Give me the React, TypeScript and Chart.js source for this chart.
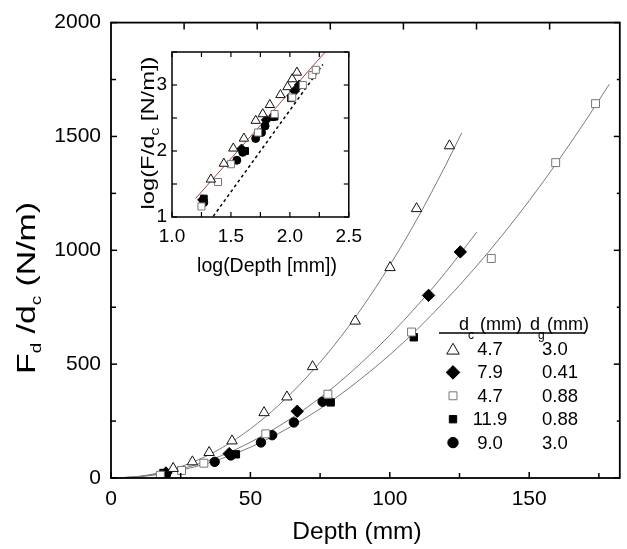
import React, { useEffect, useRef } from 'react';
import { Chart, registerables } from 'chart.js';

Chart.register(...registerables);

const FONT = "'Liberation Sans', Arial, Helvetica, sans-serif";

// ---------- main plot: measured points (Depth mm, Fd/dc N/m) ----------
const TRI_X = [22.3, 29.2, 35.2, 43.4, 54.9, 63.1, 72.3, 87.6, 100.1, 109.6, 121.4];
const TRI_Y = [42, 71, 112, 163, 287, 356, 489, 689, 924, 1183, 1459];
const DIA_X = [19.7, 42.4, 66.8, 113.9, 125.3];
const DIA_Y = [22, 107, 293, 802, 993];
const OSQ_X = [17.7, 25.3, 33.3, 55.5, 77.8, 107.8, 136.4, 159.5, 173.8];
const OSQ_Y = [12, 33, 65, 194, 368, 641, 964, 1385, 1644];
const FSQ_X = [18.8, 44.8, 78.8, 108.6];
const FSQ_Y = [22, 104, 332, 618];
const CIR_X = [19.7, 37.2, 43.0, 53.8, 57.8, 65.6, 75.9];
const CIR_Y = [14, 71, 99, 156, 188, 244, 335];

// ---------- main plot: fitted curves ----------
const CURVE_A_X = [0, 10, 20, 30, 40, 50, 60, 70, 80, 90, 100, 110, 120, 125.8];
const CURVE_A_Y = [0, 7, 31, 73, 134, 216, 318, 440, 582, 747, 934, 1142, 1373, 1516];
const CURVE_B_X = [0, 10, 20, 30, 40, 50, 60, 70, 80, 90, 100, 110, 120, 131.2];
const CURVE_B_Y = [0, 6.3, 25, 56.5, 100, 157, 226, 307, 401, 508, 627, 759, 903, 1080];
const CURVE_C_X = [0, 10, 20, 30, 40, 50, 60, 70, 80, 90, 100, 110, 120, 130, 140, 150, 160, 170, 178.7];
const CURVE_C_Y = [0, 5.4, 21.7, 48.7, 86.6, 135, 195, 265, 346, 439, 541, 655, 780, 915, 1061, 1218, 1386, 1565, 1729];

// ---------- inset: log-log points ----------
const IN_TRI_X = [1.33, 1.44, 1.52, 1.61, 1.71, 1.77, 1.83, 1.92, 1.98, 2.02, 2.06];
const IN_TRI_Y = [1.57, 1.81, 2.04, 2.19, 2.46, 2.56, 2.70, 2.85, 2.97, 3.09, 3.19];
const IN_DIA_X = [1.26, 1.59, 1.80, 2.04, 2.08];
const IN_DIA_Y = [1.26, 2.03, 2.47, 2.91, 3.00];
const IN_OSQ_X = [1.25, 1.39, 1.50, 1.73, 1.87, 2.02, 2.11, 2.19, 2.22];
const IN_OSQ_Y = [1.16, 1.53, 1.80, 2.28, 2.56, 2.81, 3.00, 3.15, 3.23];
const IN_FSQ_X = [1.27, 1.62, 1.87, 2.01];
const IN_FSQ_Y = [1.28, 2.00, 2.52, 2.80];
const IN_CIR_X = [1.27, 1.55, 1.60, 1.71, 1.76, 1.79, 1.86];
const IN_CIR_Y = [1.22, 1.86, 1.98, 2.19, 2.28, 2.38, 2.52];
const IN_RED_X = [1.20, 2.30];
const IN_RED_Y = [1.28, 3.50];
const IN_DOT_X = [1.35, 2.28];
const IN_DOT_Y = [1.01, 3.31];

// ---------- axes / legend text ----------
const X_MIN = 0, X_MAX = 182.5, X_LABEL_STEP = 50, X_MINOR = 25;
const Y_MIN = 0, Y_MAX = 2000, Y_LABEL_STEP = 500, Y_MINOR = 250;
const TOP_MAX = 6.96; // top axis has its own tick spacing
const IN_X_MIN = 1.0, IN_X_MAX = 2.5, IN_X_STEP = 0.5, IN_X_MINOR = 0.25;
const IN_Y_MIN = 1.0, IN_Y_MAX = 3.5, IN_Y_STEP = 1, IN_Y_MINOR = 0.5;
const LEGEND_DC = ['4.7', '7.9', '4.7', '11.9', '9.0'];
const LEGEND_DG = ['3.0', '0.41', '0.88', '0.88', '3.0'];

type Marker = { style: string; fill: string; stroke: string; r: number; ir: number; lr: number };
const MARKERS: Marker[] = [
  { style: 'triangle', fill: '#ffffff', stroke: '#111111', r: 6, ir: 5.4, lr: 7.2 },
  { style: 'rectRot', fill: '#000000', stroke: '#000000', r: 6.2, ir: 5, lr: 6.8 },
  { style: 'rect', fill: '#ffffff', stroke: '#777777', r: 5.6, ir: 5, lr: 5.6 },
  { style: 'rect', fill: '#000000', stroke: '#000000', r: 5.2, ir: 4.8, lr: 5.2 },
  { style: 'circle', fill: '#000000', stroke: '#000000', r: 4.7, ir: 4, lr: 5.2 },
];

const pts = (xs: number[], ys: number[]) => xs.map((x, i) => ({ x, y: ys[i] }));

function drawMarker(ctx: CanvasRenderingContext2D, m: Marker, x: number, y: number, r: number) {
  ctx.save();
  ctx.beginPath();
  if (m.style === 'triangle') {
    const s = Math.sin(Math.PI * 2 / 3) * r;
    ctx.moveTo(x, y - r);
    ctx.lineTo(x + s, y + r / 2);
    ctx.lineTo(x - s, y + r / 2);
    ctx.closePath();
  } else if (m.style === 'rectRot') {
    ctx.moveTo(x, y - r);
    ctx.lineTo(x + r, y);
    ctx.lineTo(x, y + r);
    ctx.lineTo(x - r, y);
    ctx.closePath();
  } else if (m.style === 'rect') {
    const s = r * Math.SQRT1_2;
    ctx.rect(x - s, y - s, 2 * s, 2 * s);
  } else {
    ctx.arc(x, y, r, 0, Math.PI * 2);
  }
  ctx.fillStyle = m.fill;
  ctx.fill();
  ctx.lineWidth = 1;
  ctx.strokeStyle = m.stroke;
  ctx.stroke();
  ctx.restore();
}

type Part = { t: string; sub?: boolean };
function drawRich(
  ctx: CanvasRenderingContext2D, parts: Part[], cx: number, cy: number,
  size: number, subSize: number, subDy: number, stretch: number, rotate: boolean
) {
  ctx.save();
  ctx.translate(cx, cy);
  if (rotate) ctx.rotate(-Math.PI / 2);
  ctx.scale(stretch, 1);
  let w = 0;
  for (const p of parts) {
    ctx.font = `${p.sub ? subSize : size}px ${FONT}`;
    w += ctx.measureText(p.t).width;
  }
  let x = -w / 2;
  ctx.fillStyle = '#000';
  ctx.textAlign = 'left';
  ctx.textBaseline = 'alphabetic';
  const base = size * 0.36;
  for (const p of parts) {
    ctx.font = `${p.sub ? subSize : size}px ${FONT}`;
    ctx.fillText(p.t, x, base + (p.sub ? subDy : 0));
    x += ctx.measureText(p.t).width;
  }
  ctx.restore();
}

function line(ctx: CanvasRenderingContext2D, x1: number, y1: number, x2: number, y2: number) {
  ctx.beginPath();
  ctx.moveTo(x1, y1);
  ctx.lineTo(x2, y2);
  ctx.stroke();
}

const mainDecor = {
  id: 'mainDecor',
  afterDatasetsDraw(chart: any) {
    const ctx: CanvasRenderingContext2D = chart.ctx;
    ctx.save();
    // legend panel
    ctx.fillStyle = '#ffffff';
    ctx.fillRect(434, 313, 170, 145);
    ctx.fillStyle = '#000';
    ctx.textAlign = 'left';
    ctx.textBaseline = 'alphabetic';
    ctx.font = `18px ${FONT}`;
    ctx.fillText('d', 459, 330);
    ctx.fillText('(mm)', 480, 330);
    ctx.fillText('d', 530, 330);
    ctx.fillText('(mm)', 547, 330);
    ctx.font = `12px ${FONT}`;
    ctx.fillText('c', 468, 339);
    ctx.fillText('g', 538, 339);
    ctx.strokeStyle = '#000';
    ctx.lineWidth = 1.5;
    line(ctx, 439, 333, 585, 333);
    ctx.font = `18.5px ${FONT}`;
    ctx.textBaseline = 'middle';
    for (let i = 0; i < LEGEND_DC.length; i++) {
      const yy = 349 + i * 23.4;
      drawMarker(ctx, MARKERS[i], 453, yy + (MARKERS[i].style === 'triangle' ? 1.5 : 0), MARKERS[i].lr);
      ctx.fillStyle = '#000';
      ctx.textAlign = 'center';
      ctx.fillText(LEGEND_DC[i], 490, yy + 1);
      ctx.textAlign = 'left';
      ctx.fillText(LEGEND_DG[i], 542, yy + 1);
    }
    ctx.restore();
  },
  afterDraw(chart: any) {
    const ctx: CanvasRenderingContext2D = chart.ctx;
    const { left, right, top, bottom } = chart.chartArea;
    const xs = chart.scales.x, ys = chart.scales.y, x2 = chart.scales.x2;
    ctx.save();
    ctx.strokeStyle = '#000';
    ctx.lineWidth = 1.5;
    for (let v = X_MIN; v <= X_MAX + 1e-6; v += X_MINOR) {
      const p = xs.getPixelForValue(v);
      const len = v % X_LABEL_STEP === 0 ? 6 : 5;
      line(ctx, p, bottom, p, bottom - len);
    }
    for (let v = Y_MIN; v <= Y_MAX + 1e-6; v += Y_MINOR) {
      const p = ys.getPixelForValue(v);
      const major = v % Y_LABEL_STEP === 0;
      line(ctx, left, p, left + (major ? 6 : 5), p);
      line(ctx, right, p, right - (major ? 6 : 3), p);
    }
    for (let v = 1; v < TOP_MAX; v += 1) {
      const p = x2.getPixelForValue(v);
      line(ctx, p, top, p, top + 7);
    }
    ctx.lineWidth = 1.8;
    ctx.strokeRect(left, top, right - left, bottom - top);
    // titles
    ctx.fillStyle = '#000';
    ctx.font = `24.5px ${FONT}`;
    ctx.textAlign = 'center';
    ctx.textBaseline = 'middle';
    ctx.fillText('Depth (mm)', 357, 532);
    ctx.restore();
    drawRich(ctx, [{ t: 'F' }, { t: 'd', sub: true }, { t: ' /d' }, { t: 'c', sub: true }, { t: ' (N/m)' }],
      26, 288, 26, 14.5, 6, 1.3, true);
  },
};

const insetDecor = {
  id: 'insetDecor',
  beforeDraw(chart: any) {
    const ctx: CanvasRenderingContext2D = chart.ctx;
    ctx.save();
    ctx.fillStyle = '#ffffff';
    ctx.fillRect(0, 0, chart.width, chart.height);
    ctx.restore();
  },
  afterDraw(chart: any) {
    const ctx: CanvasRenderingContext2D = chart.ctx;
    const { left, right, top, bottom } = chart.chartArea;
    const xs = chart.scales.x, ys = chart.scales.y;
    ctx.save();
    ctx.strokeStyle = '#000';
    ctx.lineWidth = 1.2;
    for (let v = IN_X_MIN; v <= IN_X_MAX + 1e-6; v += IN_X_MINOR) {
      const p = xs.getPixelForValue(v);
      line(ctx, p, bottom, p, bottom - 5);
      line(ctx, p, top, p, top + 5);
    }
    for (let v = IN_Y_MIN; v <= IN_Y_MAX + 1e-6; v += IN_Y_MINOR) {
      const p = ys.getPixelForValue(v);
      line(ctx, left, p, left + 5, p);
      line(ctx, right, p, right - 5, p);
    }
    ctx.lineWidth = 1.5;
    ctx.strokeRect(left, top, right - left, bottom - top);
    ctx.fillStyle = '#000';
    ctx.font = `19.5px ${FONT}`;
    ctx.textAlign = 'center';
    ctx.textBaseline = 'middle';
    ctx.fillText('log(Depth [mm])', 147, 237);
    ctx.restore();
    drawRich(ctx, [{ t: 'log(F/d' }, { t: 'c', sub: true }, { t: ' [N/m])' }],
      27, 103, 19, 12.5, 5, 1.25, true);
  },
};

const tickFont = (size: number) => ({ family: FONT, size });
const plain = (v: any) => String(v);

export default function App() {
  const mainRef = useRef<HTMLCanvasElement>(null);
  const insetRef = useRef<HTMLCanvasElement>(null);

  useEffect(() => {
    const pointSet = (xs: number[], ys: number[], m: Marker, small: boolean) => ({
      data: pts(xs, ys),
      showLine: false,
      pointStyle: m.style,
      pointRadius: small ? m.ir : m.r,
      pointBackgroundColor: m.fill,
      pointBorderColor: m.stroke,
      pointBorderWidth: 1,
      pointHoverRadius: small ? m.ir : m.r,
      xAxisID: 'x',
      yAxisID: 'y',
    });
    const curveSet = (xs: number[], ys: number[], color: string, width: number, dash: number[] = []) => ({
      data: pts(xs, ys),
      showLine: true,
      pointRadius: 0,
      pointHoverRadius: 0,
      borderColor: color,
      borderWidth: width,
      borderDash: dash,
      cubicInterpolationMode: 'monotone',
      fill: false,
      xAxisID: 'x',
      yAxisID: 'y',
    });

    const main = new Chart(mainRef.current as HTMLCanvasElement, {
      type: 'scatter',
      data: {
        datasets: [
          pointSet(TRI_X, TRI_Y, MARKERS[0], false),
          pointSet(OSQ_X, OSQ_Y, MARKERS[2], false),
          pointSet(DIA_X, DIA_Y, MARKERS[1], false),
          pointSet(FSQ_X, FSQ_Y, MARKERS[3], false),
          pointSet(CIR_X, CIR_Y, MARKERS[4], false),
          curveSet(CURVE_A_X, CURVE_A_Y, '#7a7a7a', 1),
          curveSet(CURVE_B_X, CURVE_B_Y, '#7a7a7a', 1),
          curveSet(CURVE_C_X, CURVE_C_Y, '#7a7a7a', 1),
        ] as any,
      },
      options: {
        animation: false,
        responsive: false,
        maintainAspectRatio: false,
        events: [],
        layout: { padding: { top: 19, right: 1, left: 0, bottom: 0 } },
        plugins: { legend: { display: false }, tooltip: { enabled: false } },
        scales: {
          x: {
            type: 'linear', axis: 'x', position: 'bottom', min: X_MIN, max: X_MAX,
            grid: { display: false, drawTicks: false }, border: { display: false },
            ticks: { stepSize: X_LABEL_STEP, includeBounds: false, font: tickFont(21), color: '#000', padding: 9, maxRotation: 0, autoSkip: false, callback: plain },
            afterFit: (s: any) => { s.height = 71; },
          },
          x2: {
            type: 'linear', axis: 'x', position: 'top', min: 0, max: TOP_MAX,
            grid: { display: false, drawTicks: false }, border: { display: false },
            ticks: { display: false, stepSize: 1 },
            afterFit: (s: any) => { s.height = 0; },
          },
          y: {
            type: 'linear', position: 'left', min: Y_MIN, max: Y_MAX,
            grid: { display: false, drawTicks: false }, border: { display: false },
            ticks: { stepSize: Y_LABEL_STEP, includeBounds: false, font: tickFont(21), color: '#000', padding: 10, callback: plain },
            afterFit: (s: any) => { s.width = 111; },
          },
        } as any,
      },
      plugins: [mainDecor],
    });

    const inset = new Chart(insetRef.current as HTMLCanvasElement, {
      type: 'scatter',
      data: {
        datasets: [
          pointSet(IN_TRI_X, IN_TRI_Y, MARKERS[0], true),
          pointSet(IN_OSQ_X, IN_OSQ_Y, MARKERS[2], true),
          pointSet(IN_DIA_X, IN_DIA_Y, MARKERS[1], true),
          pointSet(IN_FSQ_X, IN_FSQ_Y, MARKERS[3], true),
          pointSet(IN_CIR_X, IN_CIR_Y, MARKERS[4], true),
          curveSet(IN_RED_X, IN_RED_Y, '#a5473d', 1),
          curveSet(IN_DOT_X, IN_DOT_Y, '#000000', 1.5, [3, 3]),
        ] as any,
      },
      options: {
        animation: false,
        responsive: false,
        maintainAspectRatio: false,
        events: [],
        layout: { padding: { top: 22, right: 8, left: 0, bottom: 0 } },
        plugins: { legend: { display: false }, tooltip: { enabled: false } },
        scales: {
          x: {
            type: 'linear', position: 'bottom', min: IN_X_MIN, max: IN_X_MAX,
            grid: { display: false, drawTicks: false }, border: { display: false },
            ticks: {
              stepSize: IN_X_STEP, includeBounds: false, font: tickFont(19), color: '#000', padding: 8, maxRotation: 0, autoSkip: false,
              callback: (v: any) => Number(v).toFixed(1),
            },
            afterFit: (s: any) => { s.height = 73; },
          },
          y: {
            type: 'linear', position: 'left', min: IN_Y_MIN, max: IN_Y_MAX,
            grid: { display: false, drawTicks: false }, border: { display: false },
            ticks: { stepSize: IN_Y_STEP, includeBounds: false, font: tickFont(19), color: '#000', padding: 5, callback: plain },
            afterFit: (s: any) => { s.width = 52; },
          },
        } as any,
      },
      plugins: [insetDecor],
    });

    return () => {
      main.destroy();
      inset.destroy();
    };
  }, []);

  return (
    <div style={{ position: 'fixed', left: 0, top: 0, width: 627, height: 549, background: '#ffffff' }}>
      <canvas ref={mainRef} width={627} height={549} style={{ position: 'absolute', left: 0, top: 0 }} />
      <canvas ref={insetRef} width={250} height={260} style={{ position: 'absolute', left: 120, top: 30 }} />
    </div>
  );
}
